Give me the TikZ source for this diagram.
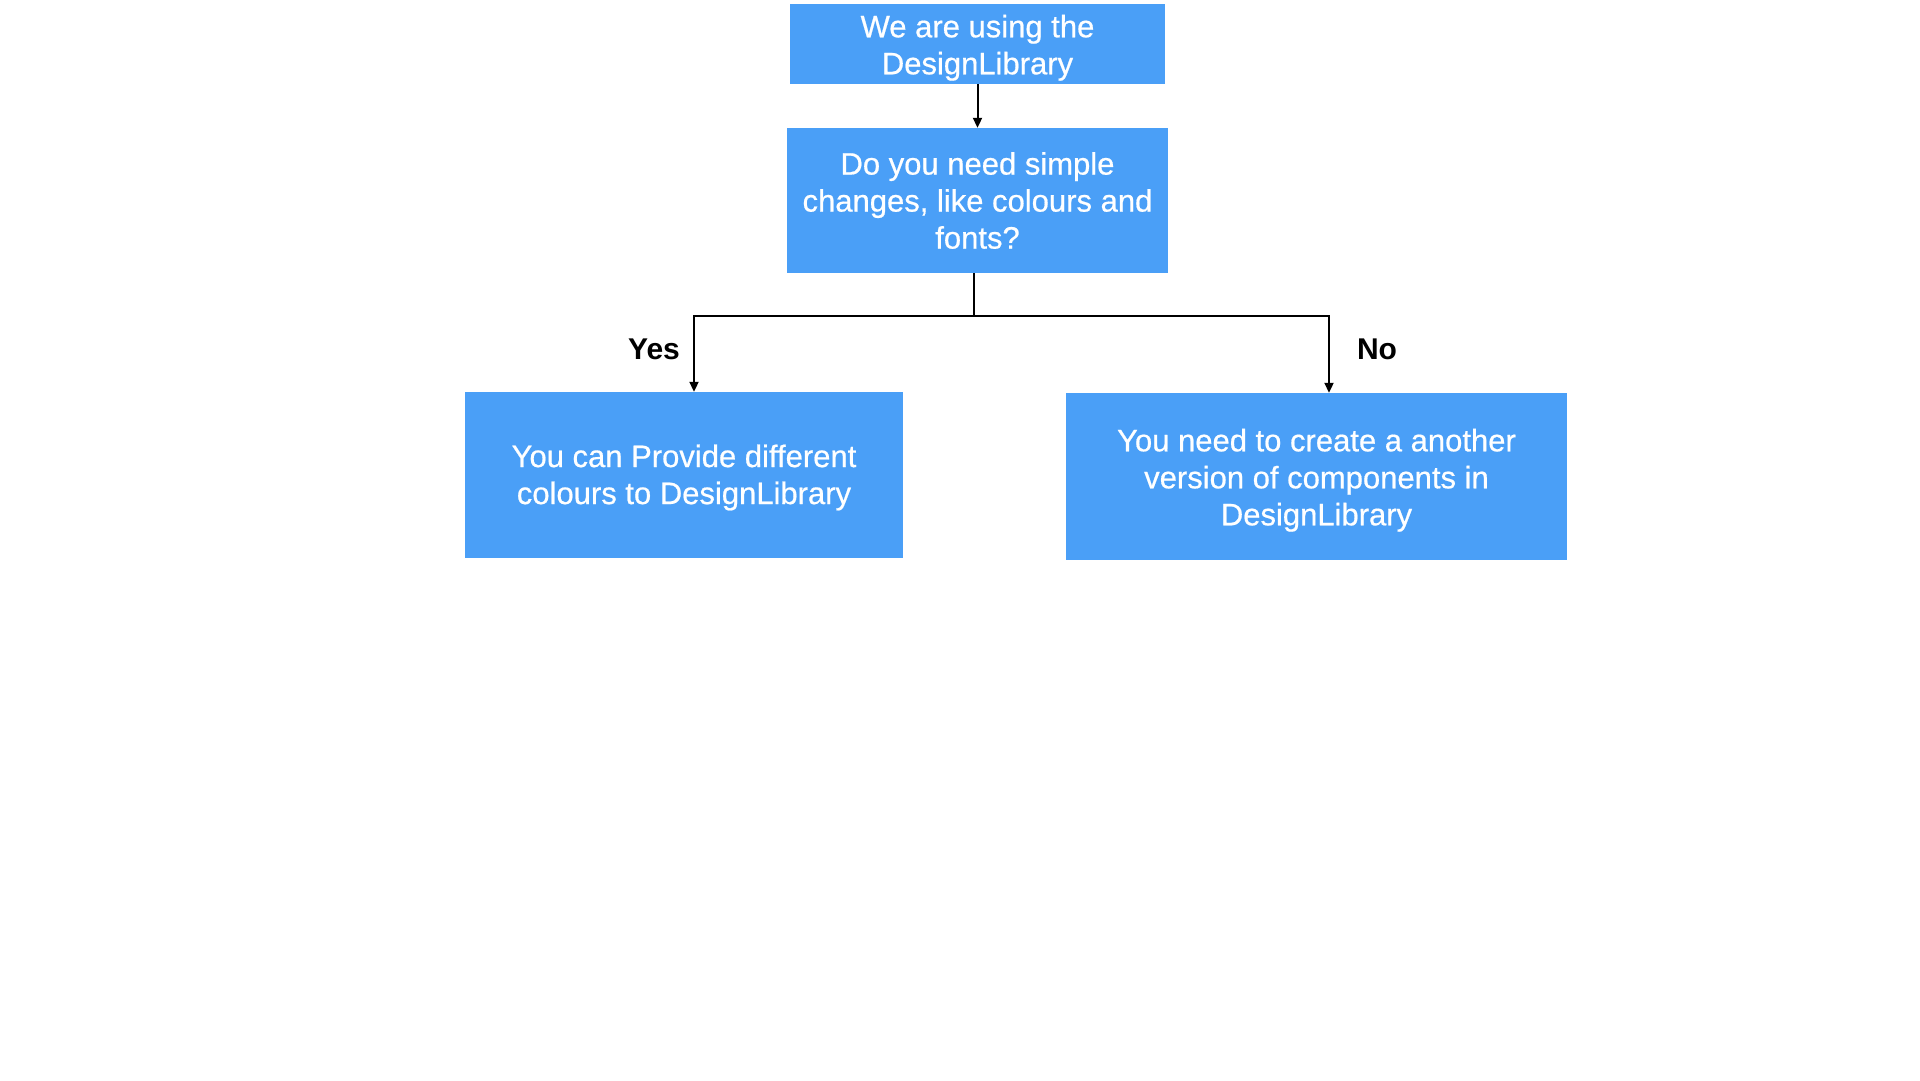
\documentclass[tikz,border=0pt]{standalone}
\usepackage{fontspec}
\setmainfont{Liberation Sans}
\newfontfamily\medfont{Liberation Sans}[FakeBold=0.6]
\newcommand\mytopgap[1]{\rule{0pt}{#1}}
\usetikzlibrary{arrows.meta}
\definecolor{boxblue}{RGB}{74,159,247}
\tikzset{
  box/.style={fill=boxblue, draw=none, inner sep=0pt, align=center, text=white,
    font=\medfont\fontsize{31}{37}\selectfont},
  lbl/.style={font=\fontsize{30}{36}\selectfont\bfseries, inner sep=0pt},
  conn/.style={line width=2pt, draw=black},
  arr/.style={conn, -{Triangle[length=10pt,width=9pt]}}
}
\begin{document}
\begin{tikzpicture}[x=1pt,y=-1pt]
\useasboundingbox[fill=white] (0,0) rectangle (1920,1080);
\node[box, minimum width=375pt, minimum height=80pt] (top) at (977.5,44) {\mytopgap{30pt}We are using the\\DesignLibrary};
\node[box, minimum width=381pt, minimum height=145pt] (q) at (977.5,200.5) {Do you need simple\\changes, like colours and\\fonts?};
\node[box, minimum width=438pt, minimum height=166pt] (yes) at (684,475) {\mytopgap{27.5pt}You can Provide different\\colours to DesignLibrary};
\node[box, minimum width=501pt, minimum height=167pt] (no) at (1316.5,476.5) {\mytopgap{30pt}You need to create a another\\version of components in\\DesignLibrary};
\node[lbl] (yl) at (654,349) {Yes};
\node[lbl] (nl) at (1377,349) {No};
\coordinate (j) at (974,316);
\draw[arr] (top.south) -- (q.north);
\draw[conn] (q.south -| j) -- (j);
\draw[arr] (j) -| ([xshift=10pt]yes.north);
\draw[arr] (j) -| ([xshift=12.5pt]no.north);
\end{tikzpicture}
\end{document}
